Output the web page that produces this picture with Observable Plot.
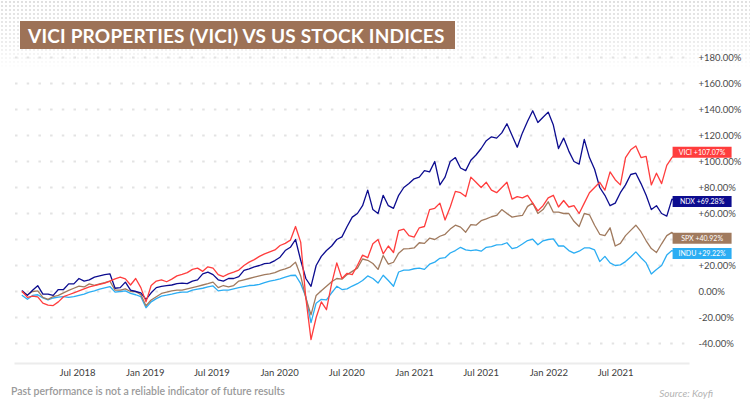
<!DOCTYPE html>
<html>
<head>
<meta charset="utf-8">
<script src="https://cdn.jsdelivr.net/npm/d3@7"></script>
<script src="https://cdn.jsdelivr.net/npm/@observablehq/plot@0.6"></script>
<style>
  html, body { margin: 0; padding: 0; background: #fff; }
  #wrap { position: relative; width: 750px; height: 411px; overflow: hidden; background: #fff; font-family: Lato, "Noto Sans", sans-serif; }
  #dots { position: absolute; left: 0; top: 0; width: 750px; height: 70px;
    background-image: radial-gradient(circle, #e0e0e0 0.9px, transparent 1.2px);
    background-size: 4px 4px;
    -webkit-mask-image: linear-gradient(to bottom, rgba(0,0,0,1) 0%, rgba(0,0,0,0.6) 60%, rgba(0,0,0,0) 100%);
    mask-image: linear-gradient(to bottom, rgba(0,0,0,1) 0%, rgba(0,0,0,0.6) 60%, rgba(0,0,0,0) 100%); }
  #title { position: absolute; left: 20px; top: 21px; width: 435px; height: 28px; background: #9d7257;
    color: #fff; font-weight: 700; font-size: 19px; letter-spacing: 0.2px; line-height: 29px; padding-left: 8px; box-sizing: border-box; white-space: nowrap; }
  #chart { position: absolute; left: 0; top: 52px; }
  #note { position: absolute; left: 11px; top: 385px; font-size: 10.5px; color: #9a9a9a; font-weight: 600; }
  #source { position: absolute; right: 37px; top: 387px; font-size: 10px; color: #b3b3b3; font-style: italic; }
</style>
</head>
<body>
<div id="wrap">
  <div id="dots"></div>
  <div id="title">VICI PROPERTIES (VICI) VS US STOCK INDICES</div>
  <div id="chart"></div>
  <div id="note">Past performance is not a reliable indicator of future results</div>
  <div id="source">Source: Koyfi</div>
</div>
<script>
// ---- data (values in %, sampled every two weeks from 1 Feb 2018) ----
const seriesNames = ["VICI", "NDX", "SPX", "INDU"];
const seriesColors = ["#ff3d3d", "#0c0c8f", "#a07a5e", "#2badf3"];
const endLabels = ["VICI +107.07%", "NDX +69.28%", "SPX +40.92%", "INDU +29.22%"];
const startDate = "2018-02-01";
const stepDays = 14;

const vici = [0, -4.5, -3.5, -4.2, -9, -10.5, -10.8, -8, -4, -2.5,
  -1, 0.5, 2, 3.5, 4.5, 5.5, 6.5, 8, 9.7, 11,
  9.7, 5, 10, 3, -8, 4.6, 8, 9, 7.5, 9.5,
  12, 13.2, 14.5, 17, 18, 15.5, 19, 18, 13, 11.5,
  13.6, 14.9, 16.5, 20, 22.6, 24.5, 27, 29, 30.5, 32,
  35.4, 37, 39.5, 50, 38, -5, -37, -20, -8, -14,
  6, 22, 10, 14, 13, 20, 28, 26, 36.7, 40,
  29, 35, 30, 46.9, 48, 43, 41.8, 49, 50, 63,
  64, 68, 55, 65, 77, 76, 73, 88, 84, 80,
  84, 78, 76, 80, 84, 71, 73, 72, 74, 68,
  62, 66, 72, 74, 65, 70, 65, 66, 60, 68,
  76, 80, 84, 78, 92, 86, 82, 103, 109, 112,
  103, 104, 82, 91, 83, 97, 103, 107.07];

const ndx = [0.5, -3, 1, 4.5, -2, -2, -3, 1.5, 1.5, 5.9,
  5.9, 10, 8, 9, 11, 12, 13, 13.6, 2.5, 3,
  7.2, 1, 0, -1, -6, -1, 3, 4, 4.5, 5,
  6, 6.5, 6, 8, 9, 13.6, 14.9, 13, 9, 8,
  10, 10, 11.5, 16.2, 17.4, 19, 20, 21.5, 21.8, 23.8,
  26.4, 31.5, 34, 40, 24, 10, 4, 20, 27, 31.5,
  35, 40, 42, 50, 57.2, 60, 66, 78, 63, 60,
  74, 66, 64, 74, 80, 83, 86.7, 88, 93, 92,
  100, 82, 88, 100, 103, 95, 93, 101, 105, 110,
  116, 119, 118, 122, 129, 120, 111, 122, 131, 139,
  130, 134, 138, 128, 110, 118, 108, 100, 98, 117,
  103, 94, 80, 74, 66, 68, 76, 82, 90, 91,
  83, 74, 63, 66, 60, 58, 71, 69.28];

const spx = [-0.5, -2.5, 0, 0.5, -4.5, -6, -4, -3, -1, 0.8,
  2.5, 4.2, 3.5, 5.9, 4.8, 5.9, 6.8, 8, 1, 1,
  2, 0, 0, -2.5, -11, -6.5, -4, -1.5, -0.5, 0.5,
  1, 1, 2, 3, 4, 5, 6, 7.2, 3, 4.6,
  3.5, 4.6, 8, 9, 10, 11, 12, 13, 13.6, 14.5,
  16.2, 17.4, 19, 22.6, 12, -5, -18, -3, 0.5, 4,
  7.5, 10, 9.5, 13, 15.5, 18, 25, 24, 21.5, 17,
  27.7, 21, 22.5, 29.5, 32.8, 33, 33.5, 37.5, 37, 41,
  40, 42.5, 44, 48, 51, 49.5, 45.6, 51.5, 51, 54.5,
  55.9, 57.5, 58.5, 63, 60, 57.2, 58, 58.5, 65.5, 68,
  60, 63, 69, 61, 61, 60, 60, 54, 50, 60,
  59, 51, 44, 43, 49, 35, 37, 43, 47, 51,
  46, 39, 33, 30, 36.7, 43, 45.5, 40.92];

const indu = [-3, -6, -3, -2.5, -5, -6.5, -5, -4.4, -4, -4.5,
  -4, -3, -2, -0.5, 0.5, 1.8, 2.8, 3.8, -0.5, 0,
  0.5, -1.5, -2.5, -4, -12.5, -8, -5.5, -3.5, -2.8, -2,
  -1, -0.5, -0.5, 1, 1.8, 2.5, 3.5, 4.3, 0.5, 1,
  1, 2, 3, 3.8, 4.6, 4.8, 5.5, 6.8, 8, 8.8,
  9.7, 11, 12.3, 12.5, 6, -4, -24, -9, -6, -6.5,
  -1, 4, 1.5, 2, 4.2, 6, 8.5, 12, 10, 6.5,
  12.5, 8.5, 4, 15, 16.5, 16.5, 17.5, 18, 17, 21,
  22.6, 25.5, 26, 29.6, 31.5, 34, 32, 31.5, 32, 31,
  34, 34.5, 35.8, 36, 37.5, 33, 34, 36.5, 39.2, 40.2,
  36, 39, 40, 40.5, 35, 35, 31.5, 29.5, 31, 33.5,
  33.5, 32, 23, 27, 22, 20, 20.5, 23, 26.5, 30.5,
  26, 22, 13.5, 17, 20, 28, 31.5, 29.22];

// gridlines at every 20%; the +40% label is hidden behind the SPX tag in the reference
const yGrid = [-40, -20, 0, 20, 40, 60, 80, 100, 120, 140, 160, 180];
const yTickLabels = [-40, -20, 0, 20, 60, 80, 100, 120, 140, 160, 180];
const xTickDates = ["2018-07-01", "2019-01-01", "2019-07-01", "2020-01-01", "2020-07-01",
  "2021-01-01", "2021-07-01", "2022-01-01", "2022-07-01"];
const xTickLabels = ["Jul 2018", "Jan 2019", "Jul 2019", "Jan 2020", "Jul 2020",
  "Jan 2021", "Jul 2021", "Jan 2022", "Jul 2021"];

// ---- build tables ----
const t0 = new Date(startDate + "T00:00:00Z");
const valuesBySeries = [vici, ndx, spx, indu];
const rows = [];
valuesBySeries.forEach((vals, s) => {
  vals.forEach((v, i) => rows.push({name: seriesNames[s], date: d3.utcDay.offset(t0, i * stepDays), value: v}));
});
const lastRows = seriesNames.map((n, s) => {
  const vals = valuesBySeries[s];
  return {name: n, date: d3.utcDay.offset(t0, (vals.length - 1) * stepDays), value: vals[vals.length - 1], label: endLabels[s]};
});
const tickDates = xTickDates.map(s => new Date(s + "T00:00:00Z"));
const tickLabelMap = new Map(tickDates.map((d, i) => [+d, xTickLabels[i]]));

const boxSymbol = {draw(ctx) { ctx.rect(-29.5, -5.5, 59, 11); }};
const fmtY = v => (v > 0 ? "+" : "") + v.toFixed(2) + "%";
const lineOpts = {x: "date", y: "value", stroke: "name", strokeWidth: 1.3, strokeLinejoin: "round"};

const chart = Plot.plot({
  width: 750,
  height: 330,
  marginTop: 0,
  marginLeft: 15,
  marginRight: 62,
  marginBottom: 19,
  style: {fontFamily: "Lato, 'Noto Sans', sans-serif", background: "transparent", overflow: "visible"},
  x: {type: "utc", label: null, domain: [new Date("2018-01-01T00:00:00Z"), new Date("2023-01-01T00:00:00Z")], range: [10.34, 682.85]},
  y: {label: null, domain: [-40, 180], range: [291, 5]},
  color: {domain: seriesNames, range: seriesColors},
  marks: [
    Plot.ruleY(yGrid, {stroke: "#e3e3e3", strokeWidth: 2, strokeDasharray: "2.5,9.2"}),
    Plot.frame({anchor: "bottom", stroke: "#ececec", strokeWidth: 2}),
    Plot.axisY({anchor: "right", label: null, ticks: yTickLabels, tickFormat: fmtY, tickSize: 0, tickPadding: 10, fontSize: 9.5, fill: "#4a4a4a", textAnchor: "start"}),
    Plot.axisX({label: null, ticks: tickDates, tickFormat: d => tickLabelMap.get(+d), tickSize: 0, tickPadding: 6, fontSize: 9.5, fill: "#3c3c3c"}),
    Plot.line(rows.filter(d => d.name === "INDU"), lineOpts),
    Plot.line(rows.filter(d => d.name === "SPX"), lineOpts),
    Plot.line(rows.filter(d => d.name === "NDX"), lineOpts),
    Plot.line(rows.filter(d => d.name === "VICI"), lineOpts),
    Plot.dot(lastRows, {x: "date", y: "value", fill: "name", stroke: null, symbol: boxSymbol, r: 5, dx: 25}),
    Plot.text(lastRows, {x: "date", y: "value", text: "label", dx: 25, fill: "white", fontSize: 7, textAnchor: "middle"})
  ]
});
document.getElementById("chart").appendChild(chart);
</script>
</body>
</html>
